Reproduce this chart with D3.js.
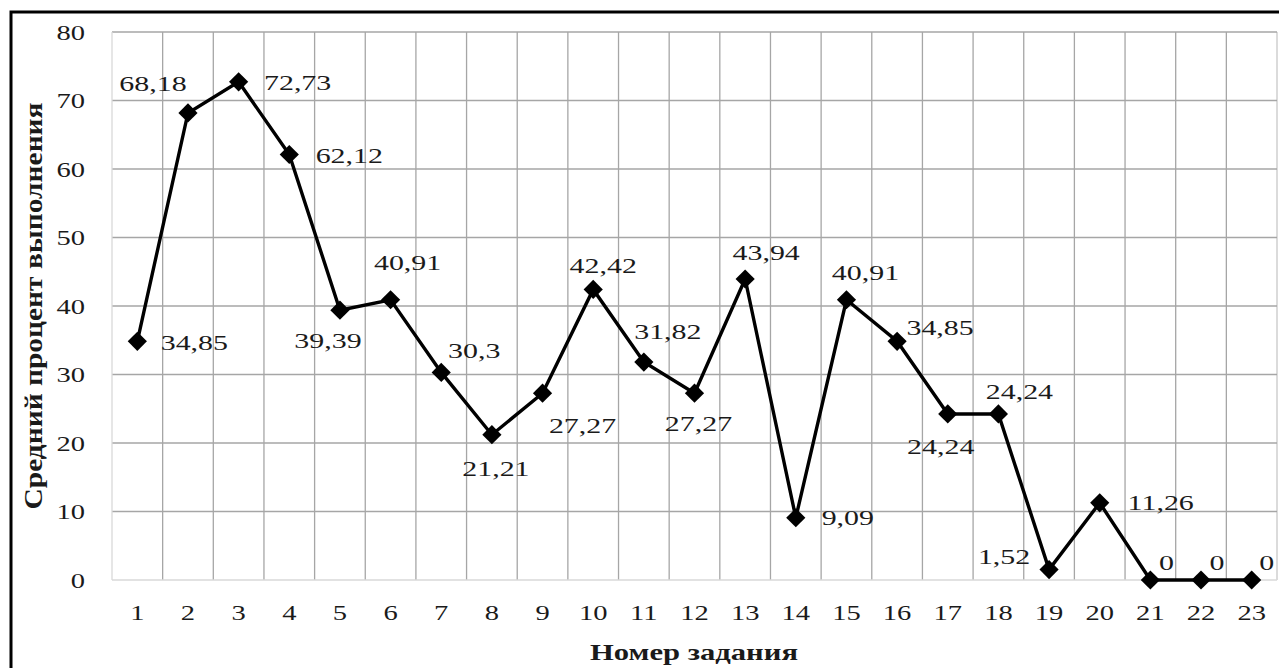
<!DOCTYPE html>
<html>
<head>
<meta charset="utf-8">
<title>Средний процент выполнения заданий</title>
<script src="https://d3js.org/d3.v7.min.js"></script>
<style>
    html, body { margin: 0; padding: 0; background: white; }
    svg text { font-family: "Liberation Serif", "Times New Roman", serif; fill: #1a1a1a; }
</style>
</head>
<body>
<div id="graph"></div>
<script>
    // task numbers and average completion percent
    var tasks = ["1","2","3","4","5","6","7","8","9","10","11","12","13","14","15","16","17","18","19","20","21","22","23"];
    var percent = [34.85, 68.18, 72.73, 62.12, 39.39, 40.91, 30.3, 21.21, 27.27, 42.42, 31.82, 27.27, 43.94, 9.09, 40.91, 34.85, 24.24, 24.24, 1.52, 11.26, 0, 0, 0];
    var yTicks = [0, 10, 20, 30, 40, 50, 60, 70, 80];

    // where each data label sits relative to its point (text centre, px)
    var labelShift = [[57,1],[-35,-29],[59,1],[60,1],[-12,30],[17,-37],[33,-22],[4,34],[40,32],[10,-24],[24,-31],[4,30],
                      [21,-26],[52,0],[19,-27],[43,-14],[-7,33],[21,-22],[-45,-13],[61,0],[16,-17],[16,-17],[15,-17]];

    var W = 1279, H = 668;
    var plot = {left: 112, right: 1277, top: 32, bottom: 580};
    var stretch = 1.36; // text in the original is drawn wide

    var svg = d3.select("#graph").append("svg")
        .attr("width", W).attr("height", H);

    // outer frame (runs off the right/bottom of the picture)
    svg.append("rect")
        .attr("x", 11).attr("y", 12)
        .attr("width", 1320).attr("height", 720)
        .attr("fill", "none").attr("stroke", "#000").attr("stroke-width", 3);

    var x = d3.scaleBand().domain(tasks).range([plot.left, plot.right]).padding(0);
    var y = d3.scaleLinear().domain([0, 80]).range([plot.bottom, plot.top]);

    // grid
    var grid = svg.append("g");
    grid.selectAll(".vgrid")
        .data(tasks)
        .enter().append("line")
        .attr("x1", function(d){ return x(d) + x.bandwidth(); })
        .attr("x2", function(d){ return x(d) + x.bandwidth(); })
        .attr("y1", plot.top).attr("y2", plot.bottom)
        .attr("stroke", function(d, i){ return i == tasks.length - 1 ? "#c8c8c8" : "#a6a6a6"; })
        .attr("stroke-width", 1.3);
    grid.selectAll(".hgrid")
        .data(yTicks)
        .enter().append("line")
        .attr("x1", plot.left).attr("x2", plot.right)
        .attr("y1", function(d){ return y(d); })
        .attr("y2", function(d){ return y(d); })
        .attr("stroke", function(d){ return d == 0 ? "#d9d9d9" : "#a6a6a6"; })
        .attr("stroke-width", 1.3);
    grid.append("line")
        .attr("x1", plot.left).attr("x2", plot.left)
        .attr("y1", plot.top).attr("y2", plot.bottom)
        .attr("stroke", "#d9d9d9").attr("stroke-width", 1.3);

    // y axis
    var yGroup = svg.append("g")
        .attr("transform", "translate(" + plot.left + ",0)")
        .call(d3.axisLeft(y).tickValues(yTicks).tickSize(0));
    yGroup.select(".domain").remove();
    yGroup.selectAll(".tick text")
        .attr("x", 0)
        .attr("dy", "0.34em")
        .attr("transform", "translate(-27,0) scale(" + stretch + ",1)")
        .style("font-size", "21px");

    // x axis
    var xGroup = svg.append("g")
        .attr("transform", "translate(0," + plot.bottom + ")")
        .call(d3.axisBottom(x).tickSize(0));
    xGroup.select(".domain").remove();
    xGroup.selectAll(".tick text")
        .attr("y", 0).attr("dy", 0)
        .attr("transform", "translate(0,40) scale(" + stretch + ",1)")
        .style("font-size", "21px");

    // axis titles
    svg.append("text")
        .attr("x", 694).attr("y", 660)
        .attr("text-anchor", "middle")
        .attr("textLength", 208)
        .attr("lengthAdjust", "spacingAndGlyphs")
        .style("font-size", "23px").style("font-weight", "bold")
        .text("Номер задания");

    svg.append("text")
        .attr("transform", "translate(42,306) rotate(-90) scale(1,1.12)")
        .attr("text-anchor", "middle")
        .attr("textLength", 407)
        .attr("lengthAdjust", "spacingAndGlyphs")
        .style("font-size", "23px").style("font-weight", "bold")
        .text("Средний процент выполнения");

    // line
    var line = d3.line()
        .x(function(d, i){ return x(tasks[i]) + x.bandwidth() / 2; })
        .y(function(d){ return y(d); });

    svg.append("path")
        .datum(percent)
        .attr("d", line)
        .attr("fill", "none")
        .attr("stroke", "#000")
        .attr("stroke-width", 3.4)
        .attr("stroke-linejoin", "miter");

    // diamond markers
    svg.selectAll(".marker")
        .data(percent)
        .enter().append("path")
        .attr("class", "marker")
        .attr("d", d3.symbol().type(d3.symbolDiamond2).size(235))
        .attr("transform", function(d, i){
            return "translate(" + (x(tasks[i]) + x.bandwidth() / 2) + "," + y(d) + ")";
        })
        .attr("fill", "#000");

    // data labels
    svg.selectAll(".lbl")
        .data(percent)
        .enter().append("g")
        .attr("class", "lbl")
        .attr("transform", function(d, i){
            var px = x(tasks[i]) + x.bandwidth() / 2 + labelShift[i][0];
            var py = y(d) + labelShift[i][1];
            return "translate(" + px + "," + py + ")";
        })
        .append("text")
        .attr("text-anchor", "middle")
        .attr("dy", "0.34em")
        .attr("transform", "scale(" + stretch + ",1)")
        .style("font-size", "22px")
        .text(function(d){ return String(d).replace(".", ","); });
</script>
</body>
</html>
